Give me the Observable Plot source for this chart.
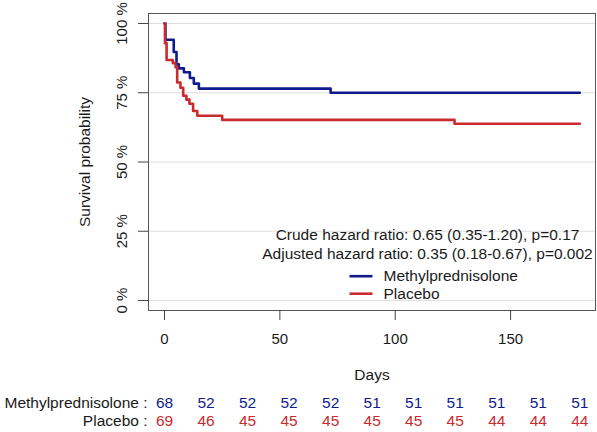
<!DOCTYPE html>
<html><head><meta charset="utf-8">
<script src="https://cdn.jsdelivr.net/npm/d3@7"></script>
<script src="https://cdn.jsdelivr.net/npm/@observablehq/plot@0.6"></script>
<style>
html,body{margin:0;padding:0;background:#fff;}
#chart svg{display:block;}
</style></head><body><div id="chart"></div>
<script>
// ---- data ----
const groups = ["Methylprednisolone", "Placebo"];
const colors = ["#101c8c", "#c92b2e"];
const methylDays = [0, 0.4, 4, 5.2, 6.2, 8.4, 11, 12.7, 14.9, 72, 180];
const methylSurv = [1, 0.941, 0.897, 0.853, 0.838, 0.824, 0.803, 0.783, 0.765, 0.75, 0.75];
const placeboDays = [0, 0.2, 0.9, 3.6, 4.8, 5.5, 6.9, 8.1, 9.5, 10.8, 12.4, 14.2, 25, 125.7, 180];
const placeboSurv = [1, 0.929, 0.868, 0.857, 0.842, 0.787, 0.768, 0.739, 0.725, 0.71, 0.684, 0.667, 0.652, 0.638, 0.638];
const riskDays = [0, 18, 36, 54, 72, 90, 108, 126, 144, 162, 180];
const methylRisk = [68, 52, 52, 52, 52, 51, 51, 51, 51, 51, 51];
const placeboRisk = [69, 46, 45, 45, 45, 45, 45, 45, 44, 44, 44];
const xTicks = [0, 50, 100, 150];
const yTicks = [0, 0.25, 0.5, 0.75, 1];
const annotations = ["Crude hazard ratio: 0.65 (0.35-1.20), p=0.17",
                     "Adjusted hazard ratio: 0.35 (0.18-0.67), p=0.002"];

// ---- tables ----
const curves = [
  ...methylDays.map((d, i) => ({group: groups[0], day: d, surv: methylSurv[i]})),
  ...placeboDays.map((d, i) => ({group: groups[1], day: d, surv: placeboSurv[i]}))
];
const riskTable = [
  ...riskDays.map((d, i) => ({group: groups[0], day: d, n: methylRisk[i]})),
  ...riskDays.map((d, i) => ({group: groups[1], day: d, n: placeboRisk[i]}))
];

const font = "'Liberation Sans', Arial, sans-serif";
const xDomain = [-6.94, 186.8];
const lineSymbol = {draw(ctx) { ctx.moveTo(-11.5, 0); ctx.lineTo(11.5, 0); }};

const main = Plot.plot({
  width: 597, height: 385,
  marginTop: 13, marginBottom: 75, marginLeft: 148, marginRight: 2,
  style: {fontFamily: font, fontSize: "15.5px", color: "#1a1a1a", background: "#fff", overflow: "visible"},
  x: {domain: xDomain},
  y: {domain: [-0.036, 1.036]},
  color: {domain: groups, range: colors},
  marks: [
    Plot.ruleY(yTicks, {stroke: "#dedede", strokeWidth: 1}),
    Plot.frame({stroke: "#555"}),
    Plot.axisX({ticks: xTicks, tickSize: 10, tickPadding: 13, label: null, stroke: "#444", fill: "#1a1a1a", fontSize: 15}),
    Plot.axisY({ticks: yTicks, tickSize: 10, tickFormat: () => "", label: null, stroke: "#444"}),
    Plot.text(yTicks, {y: d => d, text: d => `${Math.round(d * 100)} %`, frameAnchor: "left", dx: -26,
      rotate: -90, textAnchor: "middle", lineAnchor: "middle", fill: "#1a1a1a", fontSize: 15}),
    Plot.text(["Survival probability"], {text: d => d, frameAnchor: "left", dx: -63, rotate: -90,
      textAnchor: "middle", lineAnchor: "middle", fill: "#1a1a1a"}),
    Plot.text(["Days"], {text: d => d, frameAnchor: "bottom", dy: 65, lineAnchor: "middle", fill: "#1a1a1a"}),
    Plot.line(curves, {x: "day", y: "surv", z: "group", stroke: "group", curve: "step-after", strokeWidth: 2.6}),
    Plot.text([annotations.join("\n")], {text: d => d, frameAnchor: "top-left", dx: 279, dy: 213,
      textAnchor: "middle", lineAnchor: "top", lineHeight: 1.23, fill: "#1a1a1a"}),
    ...groups.map((g, i) => Plot.dot([g], {frameAnchor: "top-left", dx: 212.5, dy: 262.7 + i * 17.5,
      symbol: lineSymbol, stroke: colors[i], fill: "none", strokeWidth: 2.6})),
    ...groups.map((g, i) => Plot.text([g], {text: d => d, frameAnchor: "top-left", dx: 235, dy: 262.7 + i * 17.5,
      textAnchor: "start", lineAnchor: "middle", fill: "#1a1a1a"}))
  ]
});

const risk = Plot.plot({
  width: 597, height: 47,
  marginTop: 18, marginBottom: 11, marginLeft: 148, marginRight: 2,
  style: {fontFamily: font, fontSize: "15.5px", color: "#1a1a1a", background: "#fff", overflow: "visible"},
  x: {domain: xDomain, axis: null},
  y: {type: "point", domain: groups, padding: 0, axis: null},
  color: {domain: groups, range: colors},
  marks: [
    Plot.axisY({tickSize: 0, tickPadding: 1, tickFormat: d => d + " :", label: null, fill: "#1a1a1a"}),
    Plot.text(riskTable, {x: "day", y: "group", text: "n", fill: "group", lineAnchor: "middle"})
  ]
});

const chart = document.getElementById("chart");
chart.appendChild(main);
chart.appendChild(risk);
</script>
</body></html>
